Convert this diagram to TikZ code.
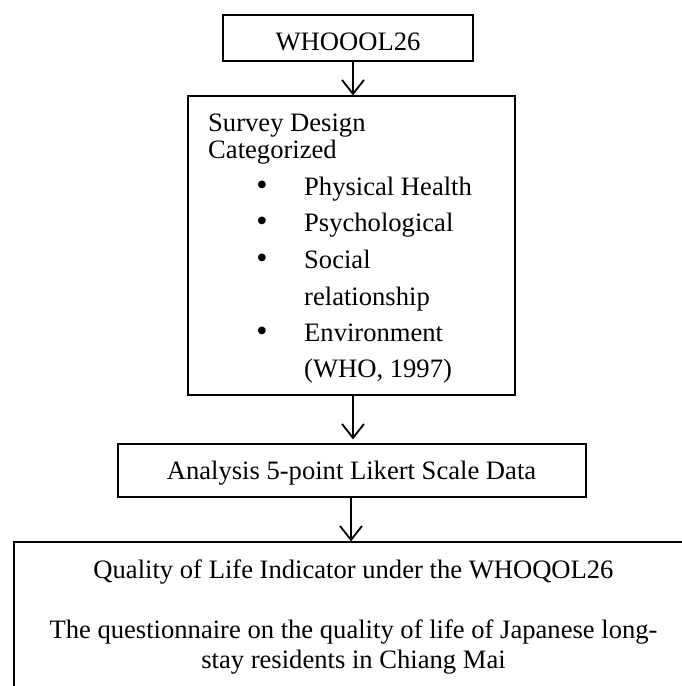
\documentclass[tikz,border=0pt]{standalone}
\usepackage{fontspec}
\setmainfont{Liberation Serif}
\usetikzlibrary{arrows.meta}
\begin{document}
\begin{tikzpicture}[x=1pt,y=-1pt,
  box/.style={draw=black, line width=1.2pt, inner sep=0pt},
  txt/.style={inner sep=0pt, font=\fontsize{26.6}{30}\selectfont},
  bul/.style={inner sep=0pt, anchor=base, font=\fontsize{32}{34}\selectfont},
  flow/.style={line width=1.8pt, -{Straight Barb[length=14pt,width=22pt,line width=1.8pt]}}]
\useasboundingbox (0,0) rectangle (682,686);
\clip (0,0) rectangle (682,686);
% boxes
\node[box, minimum width=250pt, minimum height=46pt] (b1) at (348,38) {};
\node[box, minimum width=327pt, minimum height=299pt] (b2) at (351.5,245.5) {};
\node[box, minimum width=468pt, minimum height=53pt] (b3) at (352,470.5) {};
\node[box, minimum width=679pt, minimum height=198pt] (b4) at (353.5,641) {};
% texts
\node[txt, anchor=base] (t1) at (348,50) {WHOOOL26};
\node[txt, anchor=base west] (s1) at (208,131) {Survey Design};
\node[txt, anchor=base west] (s2) at (208,158) {Categorized};
\node[bul] (p1) at (262,195) {•};
\node[txt, anchor=base west] (s3) at (304,195) {Physical Health};
\node[bul] (p2) at (262,231) {•};
\node[txt, anchor=base west] (s4) at (304,231) {Psychological};
\node[bul] (p3) at (262,268) {•};
\node[txt, anchor=base west] (s5) at (304,268) {Social};
\node[txt, anchor=base west] (s6) at (304,305) {relationship};
\node[bul] (p4) at (262,341) {•};
\node[txt, anchor=base west] (s7) at (304,341) {Environment};
\node[txt, anchor=base west] (s8) at (304,377) {(WHO, 1997)};
\node[txt, anchor=base] (t3) at (351.5,479) {Analysis 5-point Likert Scale Data};
\node[txt, anchor=base] (q1) at (353.5,578) {Quality of Life Indicator under the WHOQOL26};
\node[txt, anchor=base] (q2) at (353.5,638) {The questionnaire on the quality of life of Japanese long-};
\node[txt, anchor=base] (q3) at (353.5,668) {stay residents in Chiang Mai};
% connectors
\draw[flow] (353,0 |- b1.south) -- (353,0 |- b2.north);
\draw[flow, shorten >=4pt] (353,0 |- b2.south) -- (353,0 |- b3.north);
\draw[flow] (351,0 |- b3.south) -- (351,0 |- b4.north);
\end{tikzpicture}
\end{document}
